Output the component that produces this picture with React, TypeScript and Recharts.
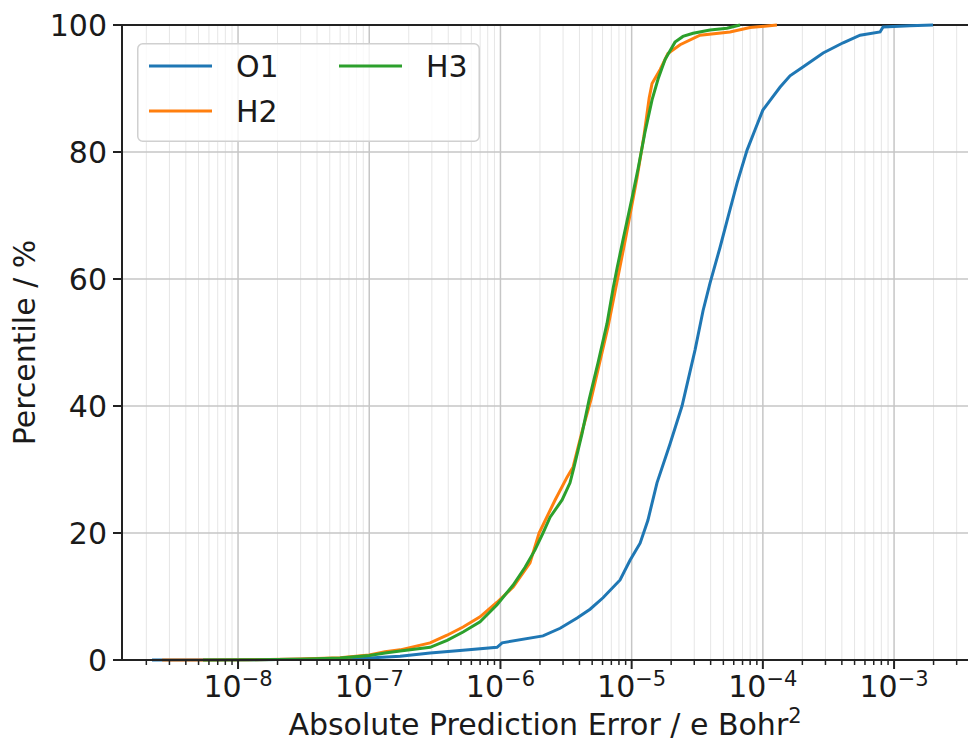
import React from 'react';
import { LineChart, Line, XAxis, YAxis, CartesianGrid, Legend, ReferenceLine } from 'recharts';

// Empirical cumulative distributions of the absolute prediction error (e Bohr^2)
const o1Error = [
  2.21e-9, 1.23e-8, 2.97e-8, 1.0e-7, 1.72e-7, 2.91e-7, 4.92e-7, 9.42e-7, 1.03e-6, 2.11e-6,
  2.85e-6, 3.84e-6, 4.82e-6, 6.05e-6, 8.16e-6, 9.72e-6, 1.16e-5, 1.33e-5, 1.56e-5, 1.96e-5,
  2.42e-5, 3.04e-5, 3.5e-5, 3.96e-5, 4.72e-5, 5.43e-5, 6.36e-5, 7.58e-5, 8.72e-5, 1.0e-4,
  1.17e-4, 1.35e-4, 1.61e-4, 2.02e-4, 2.88e-4, 4.09e-4, 5.51e-4, 7.82e-4, 8.25e-4, 1.32e-3,
  1.98e-3,
];
const o1Percentile = [
  0, 0.05, 0.1, 0.3, 0.6, 1.1, 1.5, 2.0, 2.7, 3.8,
  5.0, 6.6, 8.0, 9.8, 12.6, 15.7, 18.4, 22, 27.9, 34,
  40, 48.8, 55, 59.4, 65, 69.8, 75.1, 80.3, 83.5, 86.6,
  88.5, 90.2, 92, 93.4, 95.6, 97.2, 98.4, 98.9, 99.7, 99.9,
  100,
];

const h2Error = [
  2.64e-9, 5.41e-9, 1.23e-8, 2.97e-8, 5.99e-8, 1.0e-7, 1.32e-7, 1.72e-7, 2.91e-7, 3.92e-7,
  5.19e-7, 6.99e-7, 9.42e-7, 1.25e-6, 1.68e-6, 1.97e-6, 2.61e-6, 3.22e-6, 3.58e-6, 4.19e-6,
  4.9e-6, 6.61e-6, 8.16e-6, 8.91e-6, 1.1e-5, 1.24e-5, 1.36e-5, 1.43e-5, 1.65e-5, 1.89e-5,
  2.34e-5, 3.32e-5, 5.62e-5, 7.99e-5, 1.28e-4,
];
const h2Percentile = [
  0, 0, 0.05, 0.15, 0.35, 0.8, 1.3, 1.6, 2.7, 3.9,
  5.2, 6.8, 9.1, 11.5, 15.3, 20, 25.2, 28.8, 30.4, 36,
  41, 52.5, 62, 66, 76, 82.5, 88.5, 90.8, 93, 95.5,
  96.9, 98.4, 98.9, 99.6, 100,
];

const h3Error = [
  5.41e-9, 1.23e-8, 2.97e-8, 5.99e-8, 1.0e-7, 1.32e-7, 1.72e-7, 2.91e-7, 3.92e-7, 5.19e-7,
  6.99e-7, 9.42e-7, 1.25e-6, 1.54e-6, 1.83e-6, 2.11e-6, 2.39e-6, 2.95e-6, 3.39e-6, 3.64e-6,
  4.19e-6, 4.74e-6, 5.54e-6, 6.49e-6, 7.22e-6, 7.74e-6, 8.6e-6, 1.007e-5, 1.12e-5, 1.26e-5,
  1.43e-5, 1.59e-5, 1.8e-5, 2.14e-5, 2.46e-5, 2.94e-5, 3.96e-5, 5.33e-5, 6.7e-5,
];
const h3Percentile = [
  0, 0.05, 0.12, 0.3, 0.7, 1.1, 1.4, 2.0, 3.1, 4.4,
  6.0, 8.7, 11.8, 14.6, 17.3, 20, 22.5, 25.2, 27.9, 30.4,
  35.7, 41, 46.8, 53, 58.5, 61.7, 66.2, 72.8, 77.4, 83,
  88.2, 91.5, 94.6, 97.3, 98.2, 98.7, 99.2, 99.5, 100,
];

const seriesNames = ['O1', 'H2', 'H3'];
const seriesColors = ['#1f77b4', '#ff7f0e', '#2ca02c'];

// Axis ticks
const majorTicks = [1e-8, 1e-7, 1e-6, 1e-5, 1e-4, 1e-3];
const majorTickExponents = ['\u22128', '\u22127', '\u22126', '\u22125', '\u22124', '\u22123'];
const percentTicks = [0, 20, 40, 60, 80, 100];

const X_DOMAIN: [number, number] = [1.305e-9, 3.66e-3];
const decadeStarts = [1e-9, 1e-8, 1e-7, 1e-6, 1e-5, 1e-4, 1e-3];
const minorTicks = decadeStarts
  .flatMap((d) => [2, 3, 4, 5, 6, 7, 8, 9].map((m) => d * m))
  .filter((v) => v > X_DOMAIN[0] && v < X_DOMAIN[1]);
const allXTicks = [...majorTicks, ...minorTicks].sort((a, b) => a - b);

const toPoints = (err: number[], pct: number[]) => err.map((x, i) => ({ x, y: pct[i] }));
const seriesData = [
  toPoints(o1Error, o1Percentile),
  toPoints(h2Error, h2Percentile),
  toPoints(h3Error, h3Percentile),
];

const FONT = "'DejaVu Sans', Verdana, sans-serif";
const INK = '#1a1a1a';
const AXIS = '#222222';

const majorIndex = (v: number) =>
  majorTicks.findIndex((t) => Math.abs(Math.log10(t) - Math.log10(v)) < 1e-6);

function XTick(props: any) {
  const { x, y, payload } = props;
  const idx = majorIndex(payload.value);
  if (idx < 0) {
    return <line x1={x} x2={x} y1={y} y2={y + 5} stroke={AXIS} strokeWidth={1.5} />;
  }
  return (
    <g>
      <line x1={x} x2={x} y1={y} y2={y + 9} stroke={AXIS} strokeWidth={2} />
      <text x={x} y={y + 37} textAnchor="middle" fontFamily={FONT} fontSize={30} fill={INK}>
        <tspan>10</tspan>
        <tspan dy={-11} fontSize={21}>{majorTickExponents[idx]}</tspan>
      </text>
    </g>
  );
}

function XTitle(props: any) {
  const vb = props.viewBox || { x: 122, y: 660, width: 846, height: 82 };
  const cx = vb.x + vb.width / 2;
  return (
    <text x={cx} y={vb.y + 75} textAnchor="middle" fontFamily={FONT} fontSize={30} fill={INK}>
      <tspan>Absolute Prediction Error / e Bohr</tspan>
      <tspan dy={-12} fontSize={21}>2</tspan>
    </text>
  );
}

function YTitle(props: any) {
  const vb = props.viewBox || { x: 0, y: 25, width: 122, height: 635 };
  const cx = vb.x + 35;
  const cy = vb.y + vb.height / 2;
  return (
    <text
      x={cx}
      y={cy}
      transform={`rotate(-90 ${cx} ${cy})`}
      textAnchor="middle"
      fontFamily={FONT}
      fontSize={30}
      fill={INK}
    >
      Percentile / %
    </text>
  );
}

function LegendBox() {
  const w = 343;
  const h = 99;
  return (
    <svg width={w} height={h} style={{ display: 'block' }}>
      <rect x={0.75} y={0.75} width={w - 1.5} height={h - 1.5} rx={5} ry={5}
        fill="#ffffff" fillOpacity={0.8} stroke="#d0d0d0" strokeWidth={1.5} />
      {seriesNames.map((name, i) => {
        const col = Math.floor(i / 2);
        const row = i % 2;
        const lx = 12 + col * 190;
        const ly = 23 + row * 45;
        return (
          <g key={name}>
            <line x1={lx} x2={lx + 63} y1={ly} y2={ly} stroke={seriesColors[i]} strokeWidth={3} />
            <text x={lx + 87} y={ly + 11} fontFamily={FONT} fontSize={30} fill={INK}>{name}</text>
          </g>
        );
      })}
    </svg>
  );
}

export default function App() {
  return (
    <div style={{ position: 'fixed', left: 0, top: 0, width: 968, height: 742, background: '#fff' }}>
      <LineChart width={968} height={742} margin={{ top: 25, right: 0, bottom: 0, left: 0 }}>
        <CartesianGrid horizontal={false} verticalValues={minorTicks} stroke="#e6e6e6" strokeWidth={1} />
        <CartesianGrid verticalValues={majorTicks} horizontalValues={percentTicks} stroke="#c6c6c6" strokeWidth={1.5} />
        <XAxis
          type="number"
          dataKey="x"
          scale="log"
          domain={X_DOMAIN}
          allowDataOverflow
          ticks={allXTicks}
          interval={0}
          height={82}
          tickSize={0}
          tickMargin={0}
          tickLine={false}
          tick={<XTick />}
          axisLine={{ stroke: AXIS, strokeWidth: 2 }}
          label={<XTitle />}
        />
        <YAxis
          type="number"
          dataKey="y"
          domain={[0, 100]}
          ticks={percentTicks}
          interval={0}
          width={122}
          tickSize={9}
          tickMargin={6}
          tickLine={{ stroke: AXIS, strokeWidth: 2 }}
          axisLine={{ stroke: AXIS, strokeWidth: 2 }}
          tick={{ fontSize: 30, fontFamily: FONT, fill: INK }}
          label={<YTitle />}
        />
        <ReferenceLine y={100} stroke={AXIS} strokeWidth={2} ifOverflow="visible" />
        {seriesNames.map((name, i) => (
          <Line
            key={name}
            name={name}
            data={seriesData[i]}
            dataKey="y"
            type="linear"
            stroke={seriesColors[i]}
            strokeWidth={3}
            dot={false}
            activeDot={false}
            isAnimationActive={false}
          />
        ))}
        <Legend
          layout="horizontal"
          verticalAlign="middle"
          align="center"
          content={() => <LegendBox />}
          wrapperStyle={{ left: 137, top: 43, width: 343, height: 99 }}
        />
      </LineChart>
    </div>
  );
}
